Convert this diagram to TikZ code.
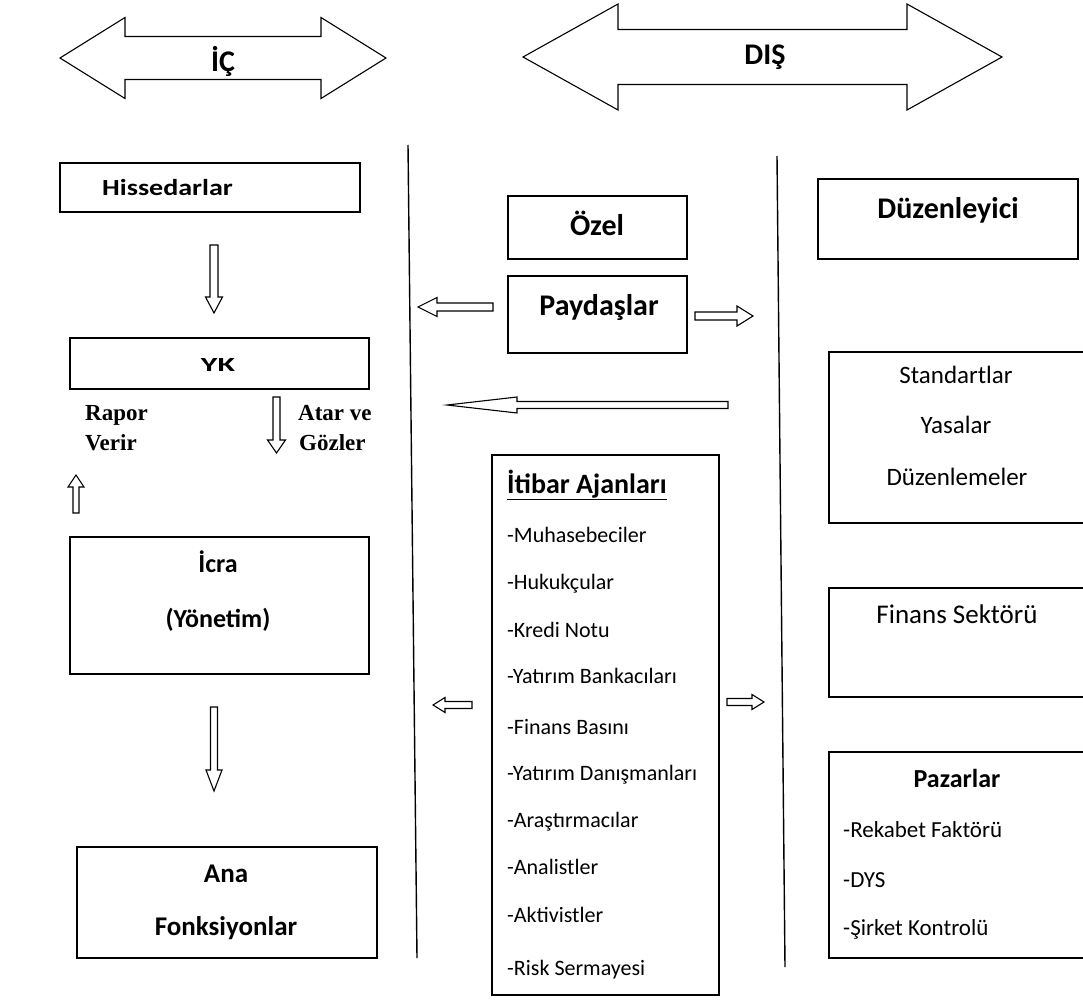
\documentclass[tikz,border=0pt]{standalone}
\usepackage{fontspec}
\usepackage{graphicx}
\setmainfont{Carlito}
\newfontfamily\tnr{Liberation Serif}
\begin{document}
\begin{tikzpicture}[x=1pt,y=-1pt,
  box/.style={draw, line width=1.5pt, inner sep=0pt},
  arrline/.style={draw, line width=1.1pt, fill=white, line join=miter},
  bt/.style={font=\fontsize{28}{30}\selectfont\bfseries, inner sep=0pt},
  lt/.style={font=\fontsize{22}{24}\selectfont, inner sep=0pt},
  rt/.style={font=\fontsize{25}{27}\selectfont, inner sep=0pt},
  st/.style={font=\tnr\fontsize{23}{25}\selectfont\bfseries, inner sep=0pt},
  divider/.style={line width=1.4pt},
  pics/hollow/.style n args={4}{code={
    \draw[arrline] (0,-#2) -- ({#1-#4},-#2) -- ({#1-#4},-#3) -- (#1,0)
      -- ({#1-#4},#3) -- ({#1-#4},#2) -- (0,#2) -- cycle;
  }},
  pics/twohead/.style n args={4}{code={
    \draw[arrline] (0,0) -- (#4,-#3) -- (#4,-#2) -- ({#1-#4},-#2) -- ({#1-#4},-#3)
      -- (#1,0) -- ({#1-#4},#3) -- ({#1-#4},#2) -- (#4,#2) -- (#4,#3) -- cycle;
  }}]
\useasboundingbox (0,0) rectangle (1083,1003);
\clip (0,0) rectangle (1083,1003);

% headline double arrows
\pic at (60,58) {twohead={326}{21.5}{40.5}{65}};
\node[bt, anchor=base, font=\fontsize{30}{32}\selectfont\bfseries] (ic) at (223,72) {İÇ};
\pic at (523,57) {twohead={479}{27.5}{53}{95}};
\node[bt, anchor=base, font=\fontsize{30}{32}\selectfont\bfseries] (dis) at (765,65) {DIŞ};

% column dividers
\coordinate (d1t) at (408,145); \coordinate (d1b) at (417,958);
\coordinate (d2t) at (777,156); \coordinate (d2b) at (785,967);
\draw[divider] (d1t) -- (d1b);
\draw[divider] (d2t) -- (d2b);

% internal column
\node[box, minimum width=300pt, minimum height=49pt] (hiss) at (210,187.5) {};
\node[bt, anchor=base west] (hisst) at (102,195) {\fontsize{23}{25}\selectfont\scalebox{1.22}[1]{Hissedarlar}};
\node[box, minimum width=299pt, minimum height=51pt] (yk) at (219.5,363.5) {};
\node[bt, anchor=base] (ykt) at (218,371) {\fontsize{20}{22}\selectfont\scalebox{1.6}[1]{YK}};
\node[st, anchor=base west] (rapor) at (85,420) {Rapor};
\node[st, anchor=base west] (verir) at (85,450) {Verir};
\node[st, anchor=base west] (atar) at (298,420) {Atar ve};
\node[st, anchor=base west] (gozler) at (299,450) {Gözler};
\node[box, minimum width=299pt, minimum height=137pt] (icra) at (219.5,605.5) {};
\node[bt, anchor=base, font=\fontsize{26}{28}\selectfont\bfseries] (icrat) at (218,572) {İcra};
\node[bt, anchor=base, font=\fontsize{26}{28}\selectfont\bfseries] (yonetim) at (218,627) {(Yönetim)};
\node[box, minimum width=300pt, minimum height=111pt] (ana) at (227,902.5) {};
\node[bt, anchor=base, font=\fontsize{27}{29}\selectfont\bfseries] (anat) at (226,882) {Ana};
\node[bt, anchor=base, font=\fontsize{27}{29}\selectfont\bfseries] (fonk) at (226,935) {Fonksiyonlar};

\pic[rotate=-90] at (214,245) {hollow={68}{4}{8.5}{16}};
\pic[rotate=-90] at (276.5,397) {hollow={56}{3.5}{9}{13}};
\pic[rotate=90] at (76,513) {hollow={38}{3}{8}{12}};
\pic[rotate=-90] at (214,707) {hollow={84}{3.5}{8}{21}};

% private stakeholders
\node[box, minimum width=179pt, minimum height=63pt] (ozel) at (597.5,227.5) {};
\node[bt, anchor=base, font=\fontsize{30}{32}\selectfont\bfseries] (ozelt) at (597,235) {Özel};
\node[box, minimum width=179pt, minimum height=77pt] (payd) at (597.5,314.5) {};
\node[bt, anchor=base, font=\fontsize{30}{32}\selectfont\bfseries] (paydt) at (599,315) {Paydaşlar};
\pic[rotate=180] at (493,307) {hollow={75}{4}{9.5}{19}};
\pic at (695,316) {hollow={58}{4}{10}{16}};
\pic[rotate=180] at (728,405) {hollow={281}{3.5}{8}{70}};

% reputation agents
\node[box, minimum width=227pt, minimum height=540pt] (itibar) at (605.5,725) {};
\node[bt, anchor=base west] (itibart) at (507,493) {\underline{İtibar Ajanları}};
\foreach \name/\txt/\yy in {m1/-Muhasebeciler/542, m2/-Hukukçular/589, m3/-Kredi Notu/637,
  m4/-Yatırım Bankacıları/683, m5/-Finans Basını/734, m6/-Yatırım Danışmanları/780,
  m7/-Araştırmacılar/827, m8/-Analistler/874, m9/-Aktivistler/922, m10/-Risk Sermayesi/975}
  \node[lt, anchor=base west] (\name) at (507,\yy) {\txt};
\pic[rotate=180] at (472,705) {hollow={39}{3.5}{7.5}{12}};
\pic at (727,702) {hollow={37}{3.5}{7.5}{12}};

% external column
\node[box, minimum width=260pt, minimum height=80pt] (duz) at (948,219) {};
\node[bt, anchor=base, font=\fontsize{30}{32}\selectfont\bfseries] (duzt) at (948,218) {Düzenleyici};
\node[box, minimum width=271pt, minimum height=171pt] (std) at (964.5,437.5) {};
\node[rt, anchor=base] (s1) at (956,383) {Standartlar};
\node[rt, anchor=base] (s2) at (956,433) {Yasalar};
\node[rt, anchor=base] (s3) at (957,485) {Düzenlemeler};
\node[box, minimum width=271pt, minimum height=109pt] (fin) at (964.5,642.5) {};
\node[rt, anchor=base, font=\fontsize{27}{29}\selectfont] (fint) at (957,623) {Finans Sektörü};
\node[box, minimum width=271pt, minimum height=206pt] (paz) at (964.5,855) {};
\node[bt, anchor=base, font=\fontsize{26}{28}\selectfont\bfseries] (pazt) at (957,787) {Pazarlar};
\node[lt, anchor=base west, font=\fontsize{23}{25}\selectfont] (p1) at (843,837) {-Rekabet Faktörü};
\node[lt, anchor=base west, font=\fontsize{23}{25}\selectfont] (p2) at (843,887) {-DYS};
\node[lt, anchor=base west, font=\fontsize{23}{25}\selectfont] (p3) at (843,935) {-Şirket Kontrolü};
\end{tikzpicture}
\end{document}
